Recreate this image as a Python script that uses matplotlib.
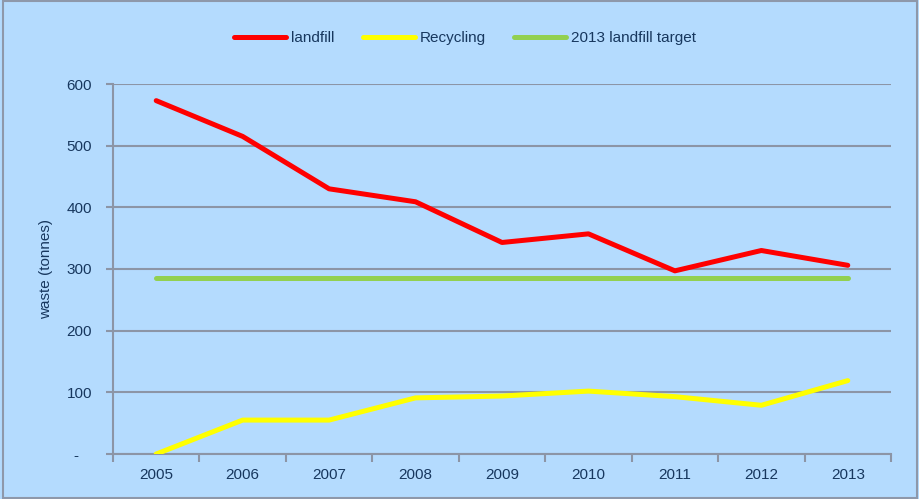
import matplotlib
matplotlib.use("Agg")
import matplotlib.pyplot as plt
from matplotlib.patches import Rectangle

years = ["2005", "2006", "2007", "2008", "2009", "2010", "2011", "2012", "2013"]
landfill = [573, 515, 430, 409, 343, 357, 297, 330, 306]
recycling = [0, 55, 55, 91, 94, 102, 93, 79, 119]
target = [285] * 9
yticks = [0, 100, 200, 300, 400, 500, 600]
ytick_labels = ["-   ", "100", "200", "300", "400", "500", "600"]

bg = "#B4DBFE"
grid_c = "#8C95A6"
txt_c = "#17375E"
fs = 11

plt.rcParams['font.family'] = ['Liberation Sans', 'DejaVu Sans']

fig = plt.figure(figsize=(9.2, 4.99), dpi=100)
fig.patch.set_facecolor(bg)
fig.add_artist(Rectangle((0.003, 0.003), 0.994, 0.994, transform=fig.transFigure,
                         fill=False, edgecolor="#8E98AA", linewidth=1.5))

W, H = 920, 499
left, right, top, bottom = 113, 891, 84, 454
ax = fig.add_axes([left / W, 1 - bottom / H, (right - left) / W, (bottom - top) / H])
ax.set_facecolor(bg)

x = list(range(len(years)))
lw = 3.6
ax.plot(x, landfill, color="#FF0000", lw=lw, solid_capstyle="round", solid_joinstyle="round", label="landfill", zorder=3)
ax.plot(x, recycling, color="#FFFF00", lw=lw, solid_capstyle="round", solid_joinstyle="round", label="Recycling", zorder=3)
ax.plot(x, target, color="#92D050", lw=lw, solid_capstyle="round", label="2013 landfill target", zorder=3)

ax.set_xlim(-0.5, len(years) - 0.5)
ax.set_ylim(0, 600)
ax.set_yticks(yticks)
ax.set_yticklabels(ytick_labels)
ax.yaxis.grid(True, color=grid_c, lw=1.5)
ax.set_axisbelow(True)

ax.set_xticks(x)
ax.set_xticklabels(years)
ax.set_xticks([i - 0.5 for i in range(len(years) + 1)], minor=True)
ax.tick_params(axis="x", which="major", length=0, pad=10, labelsize=fs, labelcolor=txt_c)
ax.tick_params(axis="x", which="minor", length=6, width=1.5, color=grid_c, direction="out")
ax.tick_params(axis="y", length=5, width=1.5, color=grid_c, pad=10, labelsize=fs, labelcolor=txt_c)

for s in ["top", "right"]:
    ax.spines[s].set_visible(False)
for s in ["left", "bottom"]:
    ax.spines[s].set_color(grid_c)
    ax.spines[s].set_linewidth(1.5)

ax.set_ylabel("waste (tonnes)", fontsize=fs, color=txt_c, labelpad=10)

leg = fig.legend(loc="center", bbox_to_anchor=(465 / W, 1 - 38 / H), ncol=3, frameon=False,
                 fontsize=fs, handlelength=3.4, handletextpad=0.33, columnspacing=1.83)
for t in leg.get_texts():
    t.set_color(txt_c)
for l in leg.get_lines():
    l.set_linewidth(lw)
    l.set_solid_capstyle("round")

fig.savefig("out.png", dpi=100, facecolor=bg)
